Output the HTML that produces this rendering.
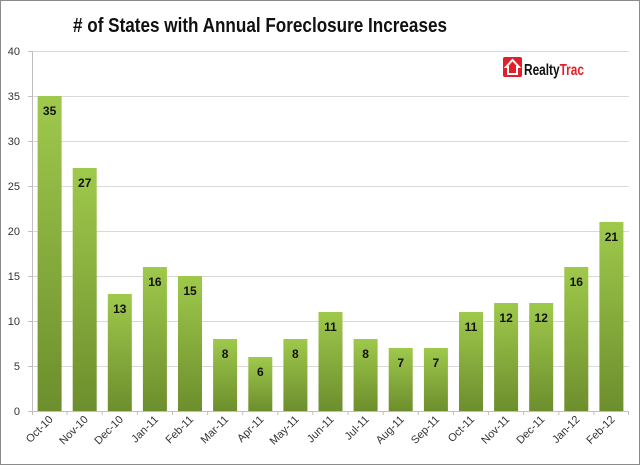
<!DOCTYPE html>
<html><head><meta charset="utf-8"><style>
body{margin:0;background:#fff}
</style></head><body>
<svg width="640" height="465" viewBox="0 0 640 465" xmlns="http://www.w3.org/2000/svg" font-family="Liberation Sans, sans-serif">
<defs>
<linearGradient id="g" x1="0" y1="0" x2="0" y2="1">
<stop offset="0" stop-color="#9fc94c"/><stop offset="1" stop-color="#6d8e2d"/>
</linearGradient>
</defs>
<rect x="0.5" y="0.5" width="639" height="464" fill="#fff" stroke="#8a8a8a"/>
<text x="73" y="32" textLength="374" lengthAdjust="spacingAndGlyphs" font-size="20" font-weight="bold" fill="#111"># of States with Annual Foreclosure Increases</text>
<g stroke="#d9d9d9" stroke-width="1">
<line x1="32" x2="629" y1="51.5" y2="51.5"/><line x1="32" x2="629" y1="96.5" y2="96.5"/>
<line x1="32" x2="629" y1="141.5" y2="141.5"/><line x1="32" x2="629" y1="186.5" y2="186.5"/>
<line x1="32" x2="629" y1="231.5" y2="231.5"/><line x1="32" x2="629" y1="276.5" y2="276.5"/>
<line x1="32" x2="629" y1="321.5" y2="321.5"/><line x1="32" x2="629" y1="366.5" y2="366.5"/>
</g>
<g stroke="#bfbfbf"><line x1="32.5" y1="51" x2="32.5" y2="411"/><line x1="32" y1="411.5" x2="629" y2="411.5"/>
<line x1="28" x2="32" y1="51.5" y2="51.5"/><line x1="28" x2="32" y1="96.5" y2="96.5"/><line x1="28" x2="32" y1="141.5" y2="141.5"/><line x1="28" x2="32" y1="186.5" y2="186.5"/><line x1="28" x2="32" y1="231.5" y2="231.5"/><line x1="28" x2="32" y1="276.5" y2="276.5"/><line x1="28" x2="32" y1="321.5" y2="321.5"/><line x1="28" x2="32" y1="366.5" y2="366.5"/><line x1="28" x2="32" y1="411.5" y2="411.5"/>
<line x1="32.5" x2="32.5" y1="411" y2="415"/><line x1="67.1" x2="67.1" y1="411" y2="415"/><line x1="102.2" x2="102.2" y1="411" y2="415"/><line x1="137.4" x2="137.4" y1="411" y2="415"/><line x1="172.5" x2="172.5" y1="411" y2="415"/><line x1="207.6" x2="207.6" y1="411" y2="415"/><line x1="242.7" x2="242.7" y1="411" y2="415"/><line x1="277.8" x2="277.8" y1="411" y2="415"/><line x1="312.9" x2="312.9" y1="411" y2="415"/><line x1="348.1" x2="348.1" y1="411" y2="415"/><line x1="383.2" x2="383.2" y1="411" y2="415"/><line x1="418.3" x2="418.3" y1="411" y2="415"/><line x1="453.4" x2="453.4" y1="411" y2="415"/><line x1="488.5" x2="488.5" y1="411" y2="415"/><line x1="523.6" x2="523.6" y1="411" y2="415"/><line x1="558.8" x2="558.8" y1="411" y2="415"/><line x1="593.9" x2="593.9" y1="411" y2="415"/><line x1="628.5" x2="628.5" y1="411" y2="415"/>
</g>
<g font-size="11" fill="#333" text-anchor="end">
<text x="20" y="55">40</text><text x="20" y="100">35</text><text x="20" y="145">30</text><text x="20" y="190">25</text><text x="20" y="235">20</text><text x="20" y="280">15</text><text x="20" y="325">10</text><text x="20" y="370">5</text><text x="20" y="415">0</text>
</g>
<g fill="url(#g)">
<rect x="37.6" y="96" width="24" height="315"/>
<rect x="72.7" y="168" width="24" height="243"/>
<rect x="107.8" y="294" width="24" height="117"/>
<rect x="142.9" y="267" width="24" height="144"/>
<rect x="178" y="276" width="24" height="135"/>
<rect x="213.1" y="339" width="24" height="72"/>
<rect x="248.3" y="357" width="24" height="54"/>
<rect x="283.4" y="339" width="24" height="72"/>
<rect x="318.5" y="312" width="24" height="99"/>
<rect x="353.6" y="339" width="24" height="72"/>
<rect x="388.7" y="348" width="24" height="63"/>
<rect x="423.9" y="348" width="24" height="63"/>
<rect x="459" y="312" width="24" height="99"/>
<rect x="494.1" y="303" width="24" height="108"/>
<rect x="529.2" y="303" width="24" height="108"/>
<rect x="564.3" y="267" width="24" height="144"/>
<rect x="599.4" y="222" width="24" height="189"/>
</g>
<g font-size="12" font-weight="bold" fill="#111" text-anchor="middle">
<text x="49.6" y="115">35</text><text x="84.7" y="187">27</text><text x="119.8" y="313">13</text><text x="154.9" y="286">16</text><text x="190" y="295">15</text><text x="225.1" y="358">8</text><text x="260.3" y="376">6</text><text x="295.4" y="358">8</text><text x="330.5" y="331">11</text><text x="365.6" y="358">8</text><text x="400.7" y="367">7</text><text x="435.9" y="367">7</text><text x="471" y="331">11</text><text x="506.1" y="322">12</text><text x="541.2" y="322">12</text><text x="576.3" y="286">16</text><text x="611.4" y="241">21</text>
</g>
<g font-size="11" fill="#333" text-anchor="end">
<text transform="translate(53.6,420) rotate(-45)">Oct-10</text>
<text transform="translate(88.7,420) rotate(-45)">Nov-10</text>
<text transform="translate(123.8,420) rotate(-45)">Dec-10</text>
<text transform="translate(158.9,420) rotate(-45)">Jan-11</text>
<text transform="translate(194,420) rotate(-45)">Feb-11</text>
<text transform="translate(229.1,420) rotate(-45)">Mar-11</text>
<text transform="translate(264.3,420) rotate(-45)">Apr-11</text>
<text transform="translate(299.4,420) rotate(-45)">May-11</text>
<text transform="translate(334.5,420) rotate(-45)">Jun-11</text>
<text transform="translate(369.6,420) rotate(-45)">Jul-11</text>
<text transform="translate(404.7,420) rotate(-45)">Aug-11</text>
<text transform="translate(439.9,420) rotate(-45)">Sep-11</text>
<text transform="translate(475,420) rotate(-45)">Oct-11</text>
<text transform="translate(510.1,420) rotate(-45)">Nov-11</text>
<text transform="translate(545.2,420) rotate(-45)">Dec-11</text>
<text transform="translate(580.3,420) rotate(-45)">Jan-12</text>
<text transform="translate(615.4,420) rotate(-45)">Feb-12</text>
</g>
<rect x="503" y="57" width="19" height="20" rx="2" fill="#e0202a"/>
<path d="M506 67 L512.5 60 L519 67 L517 67 L517 74 L508 74 L508 67 Z" fill="none" stroke="#fff" stroke-width="2"/>
<text x="524" y="75" font-size="16" font-weight="bold" textLength="60" lengthAdjust="spacingAndGlyphs" fill="#111">Realty<tspan fill="#e0202a">Trac</tspan></text>
</svg>
</body></html>
